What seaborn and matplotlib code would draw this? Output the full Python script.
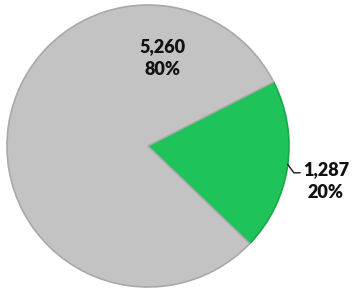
import matplotlib
matplotlib.use("Agg")
import matplotlib.pyplot as plt
import seaborn as sns

categories = ["Green", "Gray"]
values = [1287, 5260]
colors = ["#1ec45a", "#c3c3c3"]
edge_colors = ["#17a84a", "#a9a9a9"]

sns.set_theme(style="white")
plt.rcParams['font.family'] = ['Lato', 'DejaVu Sans']

fig = plt.figure(figsize=(3.52, 2.90), dpi=100)
ax = fig.add_axes([0, 0, 1, 1])

wedges, _ = ax.pie(values, colors=colors, startangle=27, counterclock=False,
                   radius=1.0, wedgeprops=dict(linewidth=1.2))
for w, ec in zip(wedges, edge_colors):
    w.set_edgecolor(ec)

total = sum(values)
labels = [f"{v:,}\n{v / total:.0%}" for v in values]

# label for the small slice sits outside with a short leader
ax.text(1.26, -0.25, labels[0], ha="center", va="center", fontsize=13,
        fontweight="heavy", color="#111111", linespacing=1.45)
ax.plot([0.99, 1.035, 1.08], [-0.13, -0.19, -0.19], color="#1a1a1a", lw=1)

ax.text(0.10, 0.625, labels[1], ha="center", va="center", fontsize=13,
        fontweight="heavy", color="#111111", linespacing=1.45)

scale = 141
ax.set_aspect("auto")
ax.set_xlim(-148 / scale, (352 - 148) / scale)
ax.set_ylim(-(290 - 146) / scale, 146 / scale)
ax.axis("off")

fig.savefig("out.png", dpi=100)
